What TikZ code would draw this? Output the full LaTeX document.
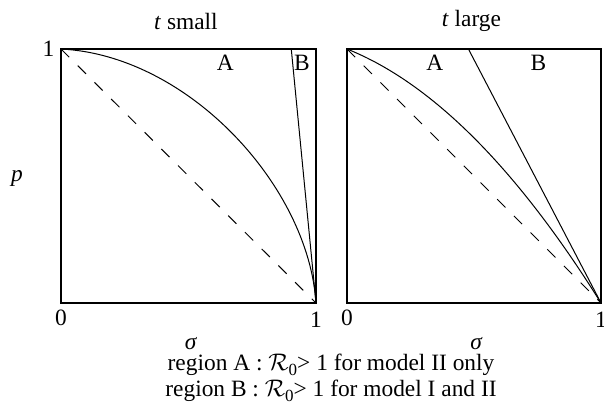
\documentclass[tikz,border=0pt]{standalone}
\usepackage{fontspec}
\setmainfont{Liberation Serif}
\usetikzlibrary{positioning,calc}

\newcommand{\Rnull}{$\mathcal{R}$\raisebox{-2.6pt}{\fontsize{8.5}{8.5}\selectfont 0}}

\tikzset{
  frame/.style={line width=1.3pt},
  curve/.style={line width=0.5pt},
  diag/.style={line width=0.5pt, dash pattern=on 5.8pt off 6pt},
  lab/.style={inner sep=0pt, font=\fontsize{11.7}{14}\selectfont}
}

\begin{document}
\begin{tikzpicture}[x=0.5pt, y=0.5pt]
  \useasboundingbox (0,0) rectangle (604,414);
  \foreach \x/\w/\name/\ttl in {61/255/sml/{small}, 347/254/lrg/{large}}{
    \begin{scope}[shift={(\x,111)}, x=\w*0.5pt, y=127pt]
      \draw[frame] (0,0) rectangle (1,1);
      \draw[diag] (0,1) -- (1,0);
      \node[lab] (\name-title) at (0.49,1.11) {\textit{t} \ttl};
      \node[lab] (\name-zero) at (0,-0.06) {0};
      \node[lab] (\name-one) at (1,-0.065) {1};
      \node[lab] (\name-sigma) at (0.51,-0.16) {\textit{σ}};
    \end{scope}
  }
  \begin{scope}[shift={(61,111)}, x=127.5pt, y=127pt]
    \node[lab, anchor=east] (p-one) at (-0.025,1) {1};
    \node[lab] (p-lab) at (-0.173,0.49) {\textit{p}};
    \draw[curve] (0,1) .. controls (0.5,0.975) and (0.97,0.46) .. (1,0);
    \draw[curve] (0.903,1) -- (1,0);
    \node[lab] (sml-A) at (0.644,0.945) {A};
    \node[lab] (sml-B) at (0.945,0.945) {B};
  \end{scope}
  \begin{scope}[shift={(347,111)}, x=127pt, y=127pt]
    \draw[curve] (0,1) .. controls (0.333,0.867) and (0.667,0.533) .. (1,0);
    \draw[curve] (0.478,1) -- (1,0);
    \node[lab] (lrg-A) at (0.346,0.945) {A};
    \node[lab] (lrg-B) at (0.754,0.945) {B};
  \end{scope}
  \node[lab] (regA) at (331,49) {region A : \Rnull> 1 for model II only};
  \node[lab] (regB) at (331,23) {region B : \Rnull> 1 for model I and II};
\end{tikzpicture}
\end{document}
